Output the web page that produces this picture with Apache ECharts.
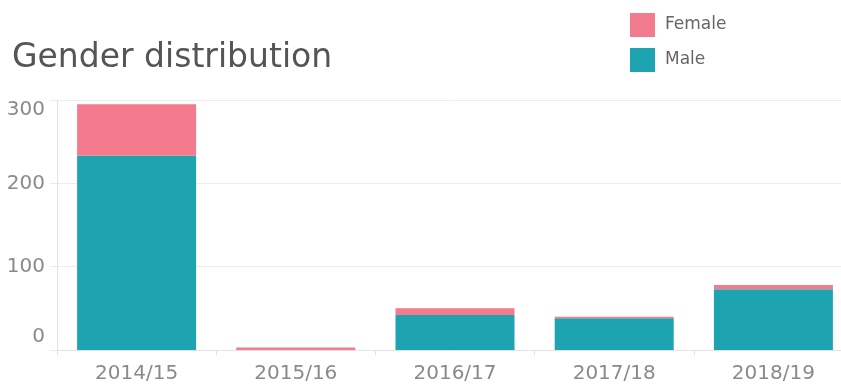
<!DOCTYPE html>
<html>
<head>
<meta charset="utf-8">
<script src="https://cdn.jsdelivr.net/npm/echarts@6/dist/echarts.min.js"></script>
<style>
  html, body { margin: 0; padding: 0; background: #fff; }
  #chart { width: 841px; height: 387px; }
</style>
</head>
<body>
<div id="chart"></div>
<script>
// Academic years on the category axis
const years = ['2014/15', '2015/16', '2016/17', '2017/18', '2018/19'];
// Head counts per year, stacked Male (bottom) + Female (top)
const male = [233, 0, 42, 38, 73];
const female = [62, 3, 8, 2, 5];
// Value-axis tick labels
const yTicks = [0, 100, 200, 300];

const FONT = '"DejaVu Sans", "Noto Sans", sans-serif';
const GRID_COLOR = '#ececec';
const LABEL_COLOR = '#8a8a8a';

const chart = echarts.init(document.getElementById('chart'), null, { renderer: 'canvas' });

chart.setOption({
  animation: false,
  backgroundColor: '#ffffff',
  title: {
    text: 'Gender distribution',
    left: 12,
    top: 42,
    padding: 0,
    textStyle: { fontFamily: FONT, fontSize: 33, fontWeight: 'normal', color: '#555555' }
  },
  legend: {
    data: ['Female', 'Male'],
    orient: 'vertical',
    left: 630,
    top: 13,
    padding: 0,
    itemWidth: 25,
    itemHeight: 24,
    itemGap: 11,
    icon: 'rect',
    textStyle: { fontFamily: FONT, fontSize: 17, color: '#666666', padding: [3, 0, 0, 5] }
  },
  // the last band runs slightly past the right edge of the canvas
  grid: {
    left: 57, width: 796, top: 100, bottom: 37,
    containLabel: false,
    outerBoundsMode: 'none'
  },
  xAxis: {
    type: 'category',
    data: years,
    axisLine: { show: true, lineStyle: { color: '#e2e2e2', width: 1 } },
    axisTick: { show: true, length: 5, lineStyle: { color: '#e2e2e2' } },
    axisLabel: { fontFamily: FONT, fontSize: 20, color: LABEL_COLOR, margin: 14 }
  },
  yAxis: {
    type: 'value',
    min: yTicks[0],
    max: yTicks[yTicks.length - 1],
    interval: 100,
    axisLine: { show: true, lineStyle: { color: '#e2e2e2', width: 1 } },
    axisTick: { show: true, length: 7, lineStyle: { color: GRID_COLOR } },
    splitLine: { show: true, lineStyle: { color: GRID_COLOR, width: 1 } },
    axisLabel: {
      fontFamily: FONT,
      fontSize: 20,
      color: LABEL_COLOR,
      margin: 12,
      formatter: function (v) {
        if (v === yTicks[yTicks.length - 1]) return '{top|' + v + '}';
        if (v === yTicks[0]) return '{bot|' + v + '}';
        return '' + v;
      },
      rich: {
        top: { fontFamily: FONT, fontSize: 20, color: LABEL_COLOR, padding: [20, 0, 0, 0] },
        bot: { fontFamily: FONT, fontSize: 20, color: LABEL_COLOR, padding: [0, 0, 26, 0] }
      }
    }
  },
  series: [
    {
      name: 'Male',
      type: 'bar',
      stack: 'gender',
      data: male,
      barWidth: 119,
      itemStyle: { color: '#1ea4b1' }
    },
    {
      name: 'Female',
      type: 'bar',
      stack: 'gender',
      data: female,
      barWidth: 119,
      itemStyle: { color: '#f27b8d' }
    }
  ]
});
</script>
</body>
</html>
